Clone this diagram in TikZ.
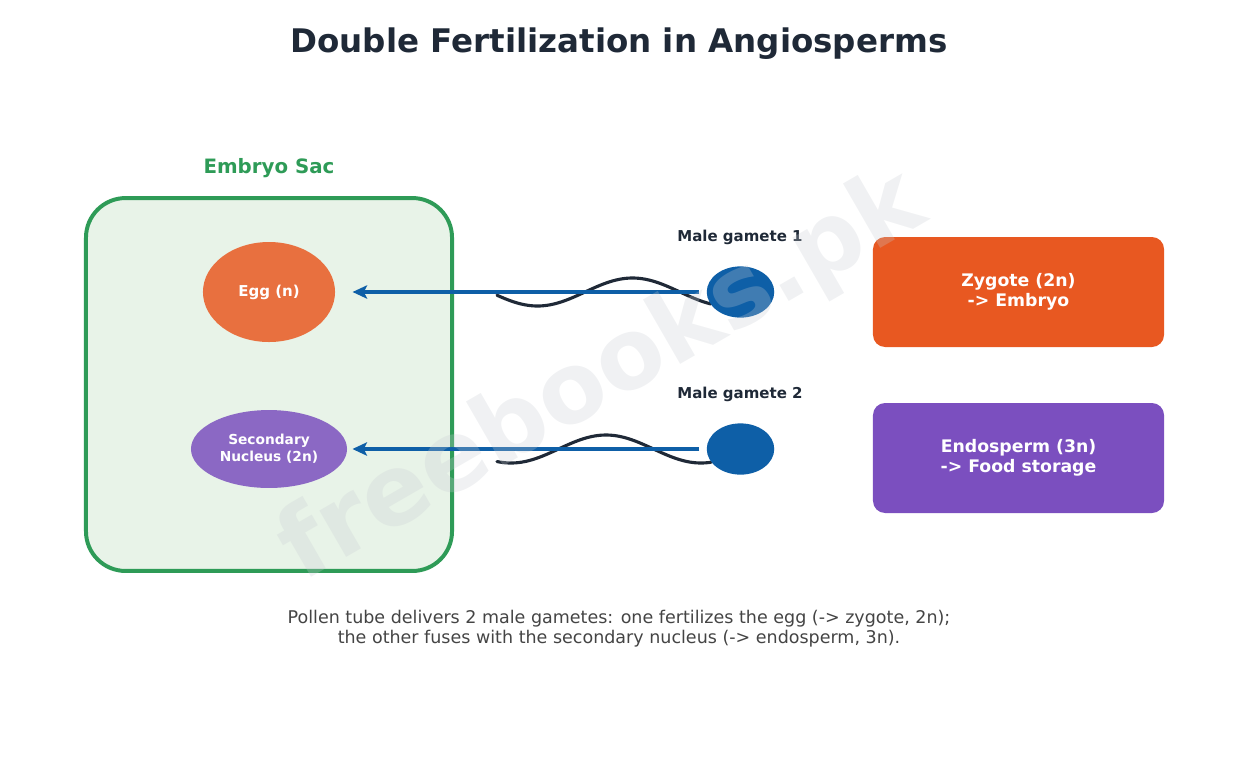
\documentclass[tikz,border=0pt]{standalone}
\usepackage{fontspec}
\setmainfont{DejaVu Sans}
\usetikzlibrary{arrows.meta,shapes.geometric,positioning}

\definecolor{inkdark}{RGB}{31,41,55}
\definecolor{sacgreen}{RGB}{46,155,87}
\definecolor{sacfill}{RGB}{232,243,232}
\definecolor{eggorange}{RGB}{232,112,63}
\definecolor{nucpurple}{RGB}{139,104,196}
\definecolor{gameteblue}{RGB}{14,95,167}
\definecolor{zygorange}{RGB}{232,88,33}
\definecolor{endopurple}{RGB}{123,79,191}
\definecolor{capgray}{RGB}{68,68,68}
\definecolor{wmgray}{RGB}{200,204,210}

\begin{document}
\begin{tikzpicture}[x=0.48pt,y=-0.48pt,
  cell/.style={ellipse,inner sep=0pt,text=white,align=center},
  gamete/.style={ellipse,fill=gameteblue,minimum width=32.4pt,minimum height=24.6pt,inner sep=0pt},
  gamlabel/.style={text=inkdark,font=\bfseries\fontsize{7.2}{8.6}\selectfont},
  result/.style={rounded corners=5.8pt,minimum width=139.7pt,minimum height=52.8pt,
    text=white,align=center,font=\bfseries\fontsize{8.3}{9.8}\selectfont},
  fert/.style={-{Stealth[length=7pt,width=6.4pt,inset=1.6pt]},gameteblue,line width=1.5pt},
  tail/.style={inkdark,line width=1.5pt,line cap=round}]
\useasboundingbox (0,0) rectangle (1239,769);

% title
\node[text=inkdark,font=\bfseries\fontsize{15.6}{18}\selectfont] (title) at (619,44) {Double Fertilization in Angiosperms};

% embryo sac with egg and secondary nucleus
\node[draw=sacgreen,fill=sacfill,line width=1.9pt,rounded corners=19pt,
  minimum width=175.7pt,minimum height=179pt] (sac) at (269,384.5) {};
\node[text=sacgreen,font=\bfseries\fontsize{9.5}{11}\selectfont] (sactitle) at (269,168) {Embryo Sac};
\node[cell,fill=eggorange,minimum width=63.4pt,minimum height=48pt,
  font=\bfseries\fontsize{7.2}{8.6}\selectfont] (egg) at (269,292) {Egg (n)};
\node[cell,fill=nucpurple,minimum width=74.9pt,minimum height=37.4pt,
  font=\bfseries\fontsize{6.6}{8.2}\selectfont] (nucleus) at (269,449) {Secondary\\Nucleus (2n)};

% male gametes (tails first, heads on top)
\draw[tail] plot[domain=497:711,samples=80] (\x,{292+14*sin(1.894737*(\x-490))});
\draw[tail] plot[domain=497:711,samples=80] (\x,{449+14*cos(1.894737*(\x-511))});
\node[gamete] (gam1) at (740.5,292) {};
\node[gamete] (gam2) at (740.5,449) {};
\node[gamlabel] (gamlbl1) at (740,237.5) {Male gamete 1};
\node[gamlabel] (gamlbl2) at (740,394.5) {Male gamete 2};

% fertilization arrows
\draw[fert,shorten <=3.4pt,shorten >=8.2pt] (gam1) -- (egg);
\draw[fert,shorten <=3.4pt,shorten >=2.4pt] (gam2) -- (nucleus);

% products
\node[result,fill=zygorange] (zygote) at (1018.5,292) {Zygote (2n)\\-> Embryo};
\node[result,fill=endopurple] (endosperm) at (1018.5,458) {Endosperm (3n)\\-> Food storage};

% caption
\node[text=capgray,align=center,font=\fontsize{8.4}{9.6}\selectfont] (caption) at (619,629)
  {Pollen tube delivers 2 male gametes: one fertilizes the egg (-> zygote, 2n);\\
   the other fuses with the secondary nucleus (-> endosperm, 3n).};

% watermark
\node[rotate=30,text=wmgray,opacity=0.27,font=\bfseries\fontsize{47}{47}\selectfont] (wmark) at (603,378) {freebooks.pk};
\end{tikzpicture}
\end{document}
